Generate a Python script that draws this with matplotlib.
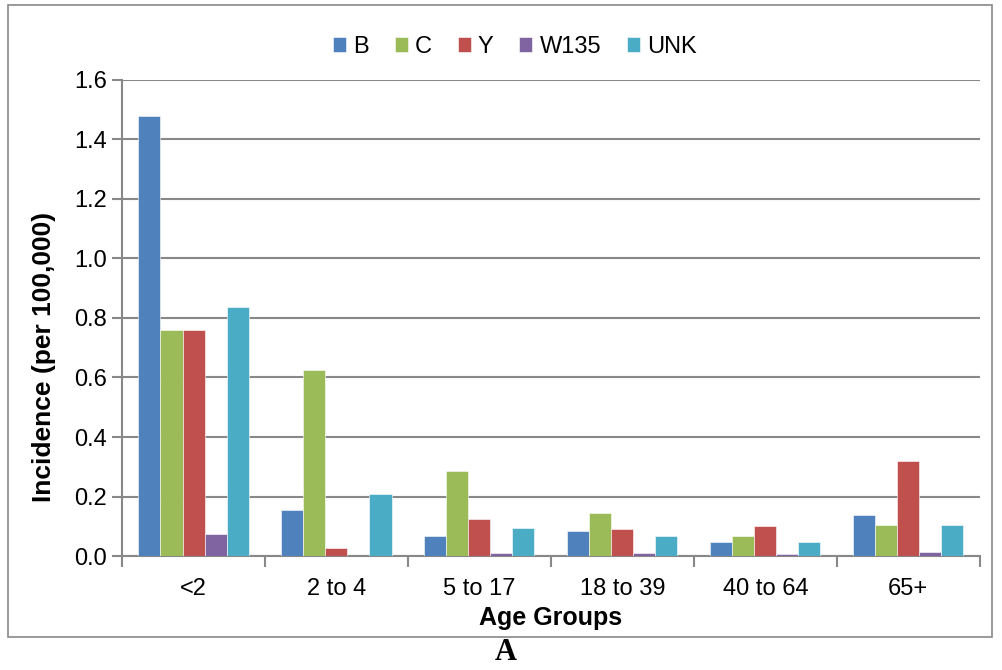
import numpy as np
import matplotlib
matplotlib.use("Agg")
import matplotlib.pyplot as plt
from matplotlib.patches import Rectangle

plt.rcParams['font.family'] = ['Liberation Sans', 'DejaVu Sans']

groups = ["<2", "2 to 4", "5 to 17", "18 to 39", "40 to 64", "65+"]
series = ["B", "C", "Y", "W135", "UNK"]
colors = ["#4F81BD", "#9BBB59", "#C0504D", "#8064A2", "#4BACC6"]

B = [1.479, 0.155, 0.067, 0.084, 0.046, 0.137]
C = [0.760, 0.625, 0.287, 0.145, 0.066, 0.105]
Y = [0.760, 0.026, 0.123, 0.091, 0.101, 0.319]
W135 = [0.074, 0.0, 0.012, 0.009, 0.007, 0.013]
UNK = [0.837, 0.207, 0.093, 0.066, 0.046, 0.105]
values = [B, C, Y, W135, UNK]

fig = plt.figure(figsize=(10.02, 6.70), dpi=100)
ax = fig.add_axes([0.1218, 0.170, 0.856, 0.711])

# outer chart frame
fig.patches.append(Rectangle((0.008, 0.049), 0.982, 0.944, transform=fig.transFigure,
                             fill=False, edgecolor="#888888", linewidth=1.2))

x = np.arange(len(groups))
w = 0.154
for i, (name, vals) in enumerate(zip(series, values)):
    ax.bar(x + (i - 2) * w, vals, width=w, color=colors[i], label=name,
           edgecolor="white", linewidth=0.4, zorder=3)

ax.set_xlim(-0.5, len(groups) - 0.5)
ax.set_ylim(0, 1.6)
ax.set_yticks(np.arange(0, 1.61, 0.2))
ax.set_yticklabels([f"{v:.1f}" for v in np.arange(0, 1.61, 0.2)], fontsize=17)
ax.set_xticks(x)
ax.set_xticklabels(groups, fontsize=17)
ax.tick_params(axis="x", length=0, pad=16)
ax.set_xticks(np.arange(-0.5, len(groups)), minor=True)
ax.tick_params(axis="x", which="minor", length=8, color="#888888", width=1.5)
ax.tick_params(axis="y", length=7, color="#888888", width=1.5, pad=4)
ax.grid(axis="y", color="#888888", linewidth=1.5, zorder=0)
for s in ["top", "right"]:
    ax.spines[s].set_visible(False)
for s in ["left", "bottom"]:
    ax.spines[s].set_color("#888888")
    ax.spines[s].set_linewidth(1.5)

ax.set_ylabel("Incidence (per 100,000)", fontsize=19, fontweight="bold")
ax.yaxis.set_label_coords(-0.077, 0.418)
ax.set_xlabel("Age Groups", fontsize=18, fontweight="bold", labelpad=4)

ax.legend(loc="center", bbox_to_anchor=(0.458, 1.069), ncol=5, frameon=False,
          fontsize=17, handlelength=0.55, handleheight=0.55, handletextpad=0.3,
          columnspacing=1.1)

fig.text(0.505, 0.005, "A", fontsize=22, fontweight="bold", family="Liberation Serif",
         ha="center", va="bottom")

fig.savefig("out.png", dpi=100)
